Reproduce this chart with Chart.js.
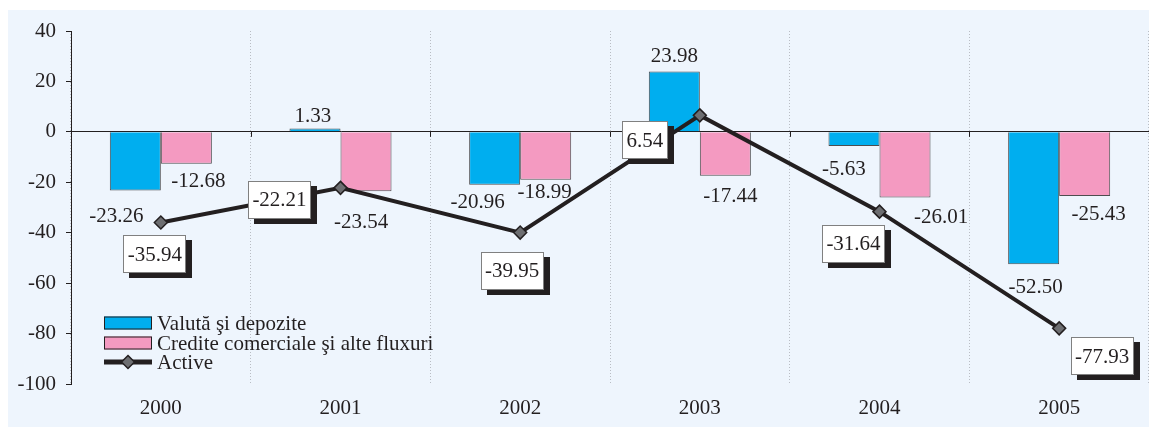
<!DOCTYPE html>
<html><head><meta charset="utf-8">
<script src="https://cdn.jsdelivr.net/npm/chart.js@4.4.1/dist/chart.umd.min.js"></script>
<style>html,body{margin:0;padding:0;background:#fff;}#wrap{width:1149px;height:437px;position:relative}</style>
</head><body><div id="wrap"><canvas id="c" width="1149" height="437"></canvas></div>
<script>
const years = ['2000','2001','2002','2003','2004','2005'];
const valutaDepozite = [-23.26, 1.33, -20.96, 23.98, -5.63, -52.50];
const crediteComerciale = [-12.68, -23.54, -18.99, -17.44, -26.01, -25.43];
const active = [-35.94, -22.21, -39.95, 6.54, -31.64, -77.93];
const seriesNames = ['Valută şi depozite', 'Credite comerciale şi alte fluxuri', 'Active'];
const yMin = -100, yMax = 40, yStep = 20;

// label placement (styling): offsets from bar end / line point
const barLabelOffsets = [
  [[-19,26],[-2,-12],[-17,18],[0,-15],[-10,23],[2,23]],
  [[12,18],[-5,31],[-1,13],[5,21],[36,20],[14,19]]
];
const lineLabelOffsets = [[-6,32],[-61,12],[-8,38],[-55,25],[-26,32],[43,28]];

const FONT = '"Liberation Serif", "Times New Roman", serif';
const FS = 21;
const INK = '#231f20';
const BLUE = '#00aeef';
const PINK = '#f49ac1';

const deco = {
  id: 'deco',
  beforeDraw(chart) {
    const ctx = chart.ctx;
    ctx.save();
    ctx.fillStyle = '#eef5fd';
    ctx.fillRect(8, 10, chart.width - 8, 417);
    ctx.restore();
  },
  afterDatasetsDraw(chart) {
    const ctx = chart.ctx;
    ctx.save();
    const xs = chart.scales.x, ys = chart.scales.y;
    const y0 = ys.getPixelForValue(0);
    ctx.strokeStyle = INK; ctx.lineWidth = 1;
    for (let i = 0; i <= years.length; i++) {
      const bx = Math.round(xs.getPixelForValue(i - 0.5)) + 0.5;
      ctx.beginPath(); ctx.moveTo(bx, y0); ctx.lineTo(bx, y0 + 5); ctx.stroke();
    }
    ctx.font = FS + 'px ' + FONT;
    ctx.textAlign = 'center'; ctx.textBaseline = 'middle';
    ctx.fillStyle = INK;
    [0, 1].forEach(di => {
      const meta = chart.getDatasetMeta(di);
      const vals = chart.data.datasets[di].data;
      meta.data.forEach((el, i) => {
        const o = barLabelOffsets[di][i];
        ctx.fillText(vals[i].toFixed(2), el.x + o[0], el.y + o[1]);
      });
    });
    const lmeta = chart.getDatasetMeta(2);
    lmeta.data.forEach((el, i) => {
      const o = lineLabelOffsets[i];
      const txt = active[i].toFixed(2);
      const w = Math.round(ctx.measureText(txt).width + 9);
      const h = 38;
      const cx = el.x + o[0], cy = el.y + o[1];
      const lx = Math.round(cx - w / 2), ty = Math.round(cy - h / 2);
      ctx.fillStyle = INK;
      ctx.fillRect(lx + 6, ty + 5, w, h);
      ctx.fillStyle = '#ffffff';
      ctx.fillRect(lx, ty, w, h);
      ctx.strokeStyle = '#808080'; ctx.lineWidth = 1;
      ctx.strokeRect(lx + 0.5, ty + 0.5, w - 1, h - 1);
      ctx.fillStyle = INK;
      ctx.fillText(txt, cx, cy + 1);
    });
    ctx.restore();
  },
  afterDraw(chart) {
    const ctx = chart.ctx;
    ctx.save();
    const lx = 104, sw = 48, tx = 157;
    const rows = [323, 343, 362];
    ctx.font = FS + 'px ' + FONT;
    ctx.textAlign = 'left'; ctx.textBaseline = 'middle';
    [BLUE, PINK].forEach((c, i) => {
      const y = rows[i];
      ctx.fillStyle = c;
      ctx.fillRect(lx, y - 6.5, sw, 13);
      ctx.strokeStyle = INK; ctx.lineWidth = 1;
      ctx.strokeRect(lx + 0.5, y - 6, sw - 1, 12);
      ctx.fillStyle = INK;
      ctx.fillText(seriesNames[i], tx, y + 1);
    });
    const y = rows[2];
    ctx.strokeStyle = INK; ctx.lineWidth = 5;
    ctx.beginPath(); ctx.moveTo(lx, y); ctx.lineTo(lx + sw, y); ctx.stroke();
    const cx = lx + sw / 2, r = 6.5;
    ctx.beginPath();
    ctx.moveTo(cx, y - r); ctx.lineTo(cx + r, y); ctx.lineTo(cx, y + r); ctx.lineTo(cx - r, y); ctx.closePath();
    ctx.fillStyle = '#6d6e71'; ctx.fill();
    ctx.lineWidth = 1.5; ctx.strokeStyle = INK; ctx.stroke();
    ctx.fillStyle = INK;
    ctx.fillText(seriesNames[2], tx, y + 1);
    ctx.restore();
  }
};

new Chart(document.getElementById('c'), {
  type: 'bar',
  data: {
    labels: years,
    datasets: [
      { label: seriesNames[0], data: valutaDepozite, backgroundColor: BLUE, borderColor: '#4d4d4f', borderWidth: 1, order: 2, categoryPercentage: 0.568, barPercentage: 1 },
      { label: seriesNames[1], data: crediteComerciale, backgroundColor: PINK, borderColor: '#4d4d4f', borderWidth: 1, order: 2, categoryPercentage: 0.568, barPercentage: 1 },
      { type: 'line', label: seriesNames[2], data: active, borderColor: INK, borderWidth: 4, order: 1,
        pointStyle: 'rectRot', pointRadius: 6.5, pointBackgroundColor: '#6d6e71', pointBorderColor: INK, pointBorderWidth: 1.5, tension: 0 }
    ]
  },
  options: {
    responsive: false,
    animation: false,
    layout: { autoPadding: false, padding: { top: 31, right: 0, bottom: 0, left: 0 } },
    plugins: { legend: { display: false }, tooltip: { enabled: false } },
    scales: {
      x: {
        grid: { offset: true, color: '#b9bdc4', drawTicks: false, lineWidth: 1 },
        border: { display: false, dash: [1, 2] },
        ticks: { font: { family: FONT, size: FS }, color: INK, padding: 12 },
        afterFit(s) { s.height = 53; }
      },
      y: {
        min: yMin, max: yMax,
        grid: { color: c => (c.tick && c.tick.value === 0) ? INK : 'rgba(0,0,0,0)', tickColor: INK, tickLength: 5, lineWidth: 1 },
        border: { display: true, color: INK, width: 1 },
        ticks: { stepSize: yStep, font: { family: FONT, size: FS }, color: INK, padding: 10 },
        afterFit(s) { s.width = 71; }
      }
    }
  },
  plugins: [deco]
});
</script>
</body></html>
